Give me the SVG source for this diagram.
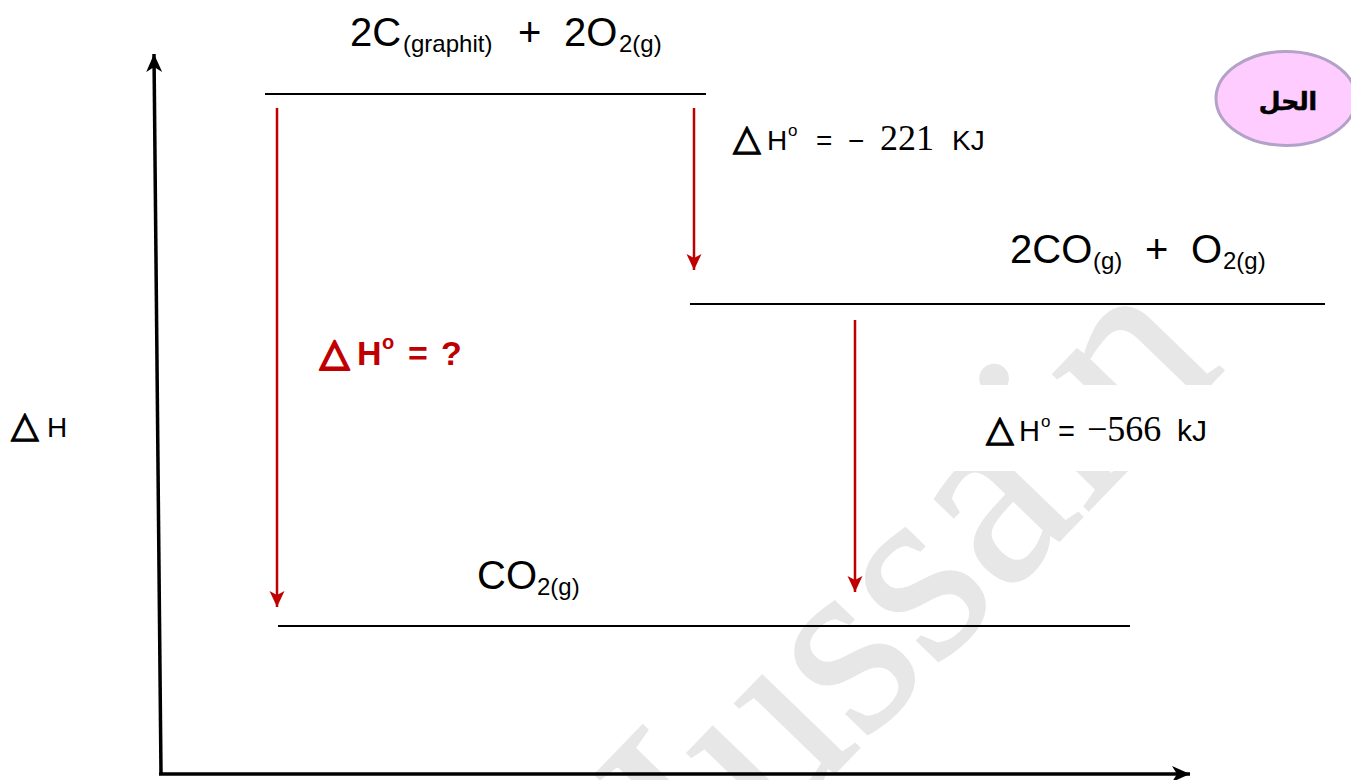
<svg xmlns="http://www.w3.org/2000/svg" width="1351" height="780" viewBox="0 0 1351 780">
<style>
.t{font-family:"Liberation Sans",Arial,sans-serif;fill:#000}
.big{font-size:40px}
.sub{font-size:24px}
.lab{font-size:28px}
.num{font-family:"Liberation Serif","Times New Roman",serif;font-size:36px}
.tri{font-family:"DejaVu Sans",sans-serif;stroke:#000;stroke-width:1.3;stroke-linejoin:round}
.sup{font-size:17px}
.lvl{stroke:#000;stroke-width:2;fill:none}
.red{stroke:#c00000;stroke-width:2.5;fill:none}
.axis{stroke:#000;stroke-width:3.5;fill:none}
.wm{font-family:"Liberation Serif","Times New Roman",serif;font-size:262px;fill:#e7e7e7;stroke:#e7e7e7;stroke-width:2}
</style>
<defs>
<marker id="ar" markerUnits="userSpaceOnUse" markerWidth="18" markerHeight="18" viewBox="0 0 18 18" refX="16" refY="9" orient="auto">
<path d="M0,1.5 L16,9 L0,16.5 L4,9 Z" fill="#c00000"/>
</marker>
<marker id="ak" markerUnits="userSpaceOnUse" markerWidth="20" markerHeight="20" viewBox="0 0 20 20" refX="18" refY="10" orient="auto">
<path d="M0,2 L18,10 L0,18 L5,10 Z" fill="#000"/>
</marker>
</defs>
<rect width="1351" height="780" fill="#fff"/>
<g id="watermark">
<text class="wm" transform="translate(640,975) rotate(-46)">Hussain</text>
</g>
<g id="connectors">
<line class="axis" x1="161" y1="774" x2="154" y2="54" marker-end="url(#ak)"/>
<line class="axis" x1="159" y1="774" x2="1190" y2="774" marker-end="url(#ak)"/>
<line class="red" x1="277" y1="108" x2="277" y2="607" marker-end="url(#ar)"/>
<line class="red" x1="694" y1="108" x2="694" y2="270" marker-end="url(#ar)"/>
<line class="red" x1="855" y1="320" x2="855" y2="592" marker-end="url(#ar)"/>
</g>
<g id="level-reactants">
<line class="lvl" x1="265" y1="94" x2="706" y2="94"/>
<text class="t big" y="46"><tspan x="350">2C</tspan><tspan class="sub" x="403" y="52">(graphit)</tspan><tspan x="518" y="46">+</tspan><tspan x="564" y="46">2O</tspan><tspan class="sub" x="619" y="52">2(g)</tspan></text>
</g>
<g id="level-intermediate">
<line class="lvl" x1="690" y1="304" x2="1325" y2="304"/>
<text class="t big" y="263"><tspan x="1010">2CO</tspan><tspan class="sub" x="1093" y="269">(g)</tspan><tspan x="1145" y="263">+</tspan><tspan x="1191" y="263">O</tspan><tspan class="sub" x="1223" y="269">2(g)</tspan></text>
</g>
<g id="level-products">
<line class="lvl" x1="278" y1="626" x2="1130" y2="626"/>
<text class="t big" y="589"><tspan x="477">CO</tspan><tspan class="sub" x="537" y="595">2(g)</tspan></text>
</g>
<g id="label-step1">
<text class="t lab" y="150"><tspan class="tri" x="733" font-size="36">△</tspan><tspan x="767">H</tspan><tspan class="sup" x="788" y="136">o</tspan><tspan x="816" y="150">=</tspan><tspan x="848">−</tspan><tspan class="num" x="880">221</tspan><tspan x="952">KJ</tspan></text>
</g>
<g id="label-step2">
<rect x="930" y="385" width="330" height="86" fill="#fff"/>
<text class="t lab" y="441"><tspan class="tri" x="986" font-size="36">△</tspan><tspan x="1019" font-size="29">H</tspan><tspan class="sup" x="1041" y="427">o</tspan><tspan x="1058" y="441" font-size="29">=</tspan><tspan class="num" x="1087" font-size="38">−566</tspan><tspan x="1177" font-size="30">kJ</tspan></text>
</g>
<g id="label-unknown">
<text class="t" font-size="34" font-weight="bold" y="365" style="fill:#c00000"><tspan class="tri" x="320" font-size="38" style="stroke:#c00000;stroke-width:2.4">△</tspan><tspan x="357">H</tspan><tspan font-size="20" x="382" y="349">o</tspan><tspan x="408" y="365">=</tspan><tspan x="441">?</tspan></text>
</g>
<g id="axis-label">
<text class="t lab" y="437"><tspan class="tri" x="11" font-size="36">△</tspan><tspan x="47">H</tspan></text>
</g>
<g id="solution-badge">
<ellipse cx="1286" cy="98.5" rx="70" ry="47" fill="#ffccff" stroke="#b3a2c7" stroke-width="3"/>
<text x="1288" y="110" text-anchor="middle" font-family="DejaVu Sans,sans-serif" font-weight="bold" font-size="25" fill="#000" stroke="#000" stroke-width="0.6">الحل</text>
</g>
</svg>
